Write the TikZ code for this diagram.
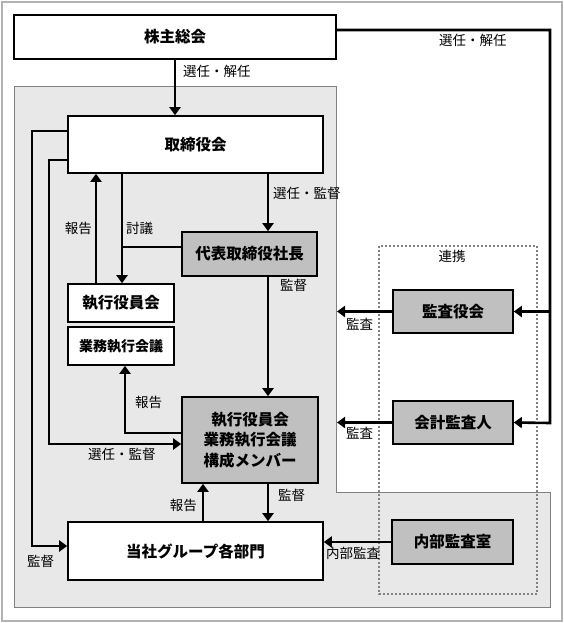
\documentclass[tikz,border=0pt]{standalone}
\usepackage{fontspec}
\setmainfont{Noto Sans CJK JP}
\usepackage{tikz}
\usetikzlibrary{arrows.meta}
\definecolor{panelgray}{HTML}{E8E8E8}
\definecolor{boxgray}{HTML}{C0C0C0}

\begin{document}
\begin{tikzpicture}[x=1pt,y=-1pt,
	unitbox/.style={draw,line width=1.6pt,fill=white,inner sep=0pt,font=\fontsize{15.5}{20.5}\selectfont\bfseries},
	greybox/.style={unitbox,fill=boxgray},
	link/.style={line width=2.6pt},
	flow/.style={link,-{Triangle[width=11pt,length=8pt]}},
	note/.style={font=\fontsize{13.5}{15}\selectfont,inner sep=0pt}]

			\def \mid {268};
			\def \edge {337};

			\useasboundingbox (0,0) rectangle (564,623);
			\draw[gray!60,line width=1.5pt] (2,2) rectangle (562,621);
			\draw[fill=panelgray,draw=gray,line width=1pt] (14,87) -- (336,87) -- (336,492) -- (550,492) -- (550,607) -- (14,607) -- cycle;
			\draw[gray,line width=2pt,dash pattern=on 2pt off 2pt] (379,246) rectangle (537,594);
			\node[note] (renkei) at (452,256) {連携};

			\node[unitbox,minimum width=322pt,minimum height=44pt] (kabu) at (175,37) {株主総会};
			\node[unitbox,minimum width=255pt,minimum height=57pt] (torishimari) at (195.5,144.5) {取締役会};
			\node[greybox,minimum width=135pt,minimum height=44pt] (daihyo) at (249.5,254) {代表取締役社長};
			\node[unitbox,minimum width=106pt,minimum height=38pt] (shikko) at (121,303) {執行役員会};
			\node[unitbox,minimum width=106pt,minimum height=38pt,font=\fontsize{14}{16}\selectfont\bfseries] (gyomu) at (121,346) {業務執行会議};
			\node[greybox,minimum width=136pt,minimum height=86pt,align=center] (member) at (250,440) {執行役員会\\業務執行会議\\構成メンバー};
			\node[unitbox,minimum width=255pt,minimum height=58pt] (tosha) at (195.5,551) {当社グループ各部門};
			\node[greybox,minimum width=120pt,minimum height=43pt] (kansayaku) at (453,311.5) {監査役会};
			\node[greybox,minimum width=120pt,minimum height=43pt] (kaikei) at (453,422.5) {会計監査人};
			\node[greybox,minimum width=121pt,minimum height=44pt] (naibu) at (452.5,542) {内部監査室};

			\coordinate (rline) at (550,423);
			\coordinate (midx) at (\mid,0);
			\coordinate (edgex) at (\edge,0);
			\coordinate (repx) at (203,0);
			\coordinate (upx) at (96,0);
			\coordinate (dnx) at (122,0);
			\coordinate (gyx) at (125,0);
			\coordinate (inx) at (49,0);
			\coordinate (outx) at (32,0);

			\draw[flow] (kabu.south) -- (torishimari.north -| kabu.south);
			\draw[flow] ([yshift=7pt]kabu.east) -| (rline) -- (kaikei.east);
			\draw[flow] (kansayaku.east -| rline) -- (kansayaku.east);

			\draw[flow] (torishimari.south -| midx) -- (daihyo.north -| midx);
			\draw[flow] (daihyo.south -| midx) -- (member.north -| midx);
			\draw[flow] (member.south -| midx) -- (tosha.north -| midx);
			\draw[flow] (tosha.north -| repx) -- (member.south -| repx);

			\draw[flow] (shikko.north -| upx) -- (torishimari.south -| upx);
			\draw[flow] (torishimari.south -| dnx) -- (shikko.north -| dnx);
			\draw[link] ([yshift=7pt]daihyo.west) -- ([yshift=7pt]daihyo.west -| dnx);
			\draw[flow] ([yshift=7pt]member.west) -| (gyomu.south -| gyx);

			\draw[flow] ([yshift=-15.5pt]torishimari.west) -| ([yshift=-4pt]member.west -| inx) -- ([yshift=-4pt]member.west);
			\draw[flow] ([yshift=13.5pt]torishimari.west) -| ([yshift=5pt]tosha.west -| outx) -- ([yshift=5pt]tosha.west);

			\draw[flow] (kansayaku.west) -- (kansayaku.west -| edgex);
			\draw[flow] (kaikei.west) -- (kaikei.west -| edgex);
			\draw[flow] (naibu.west) -- (naibu.west -| tosha.east);

			\node[note,anchor=west] (sen1) at (183,71) {選任・解任};
			\node[note,anchor=west] (sen2) at (439,40) {選任・解任};
			\node[note,anchor=west] (sen3) at (273,193) {選任・監督};
			\node[note,anchor=west] (kan1) at (280,285) {監督};
			\node[note,anchor=west] (kan2) at (278,495) {監督};
			\node[note,anchor=east] (hou1) at (197,505) {報告};
			\node[note,anchor=east] (hou2) at (92,228) {報告};
			\node[note,anchor=west] (tou) at (126,228) {討議};
			\node[note,anchor=west] (hou3) at (135,402) {報告};
			\node[note,anchor=west] (sen4) at (88,454) {選任・監督};
			\node[note,anchor=west] (kan3) at (27,561) {監督};
			\node[note,anchor=west] (sa1) at (346,324) {監査};
			\node[note,anchor=west] (sa2) at (346,433) {監査};
			\node[note,anchor=west] (sa3) at (326,553) {内部監査};
			\end{tikzpicture}
\end{document}
